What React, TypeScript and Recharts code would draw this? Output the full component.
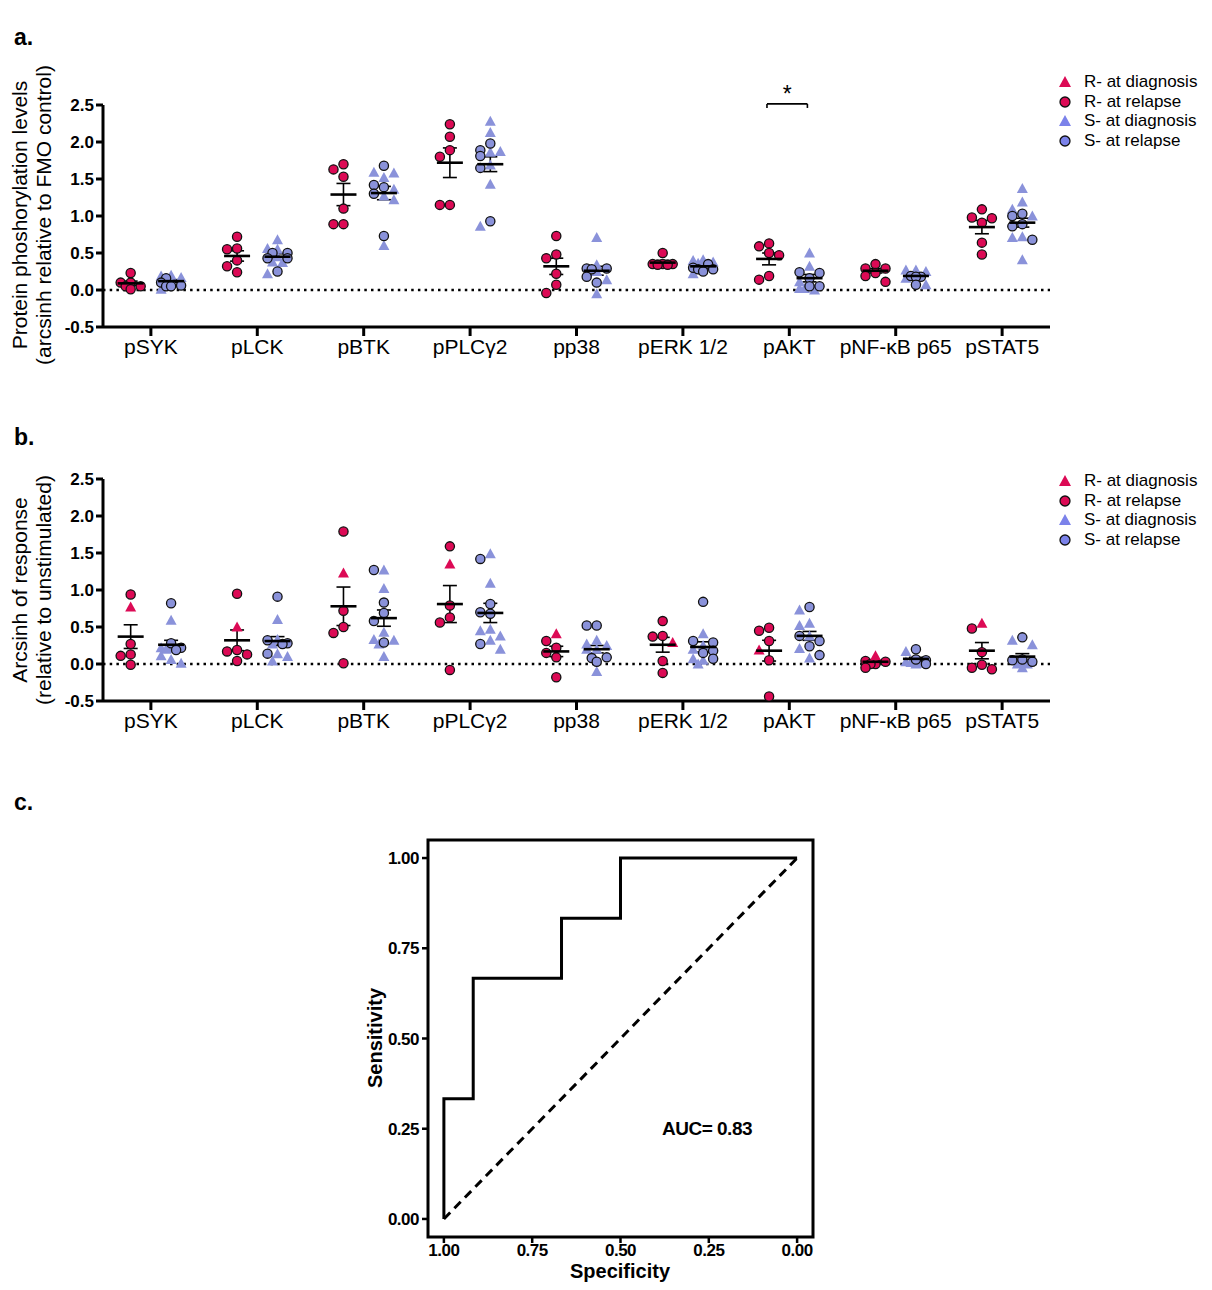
import React from "react";
import {
  ScatterChart,
  Scatter,
  XAxis,
  YAxis,
  ReferenceLine,
  ErrorBar,
  LineChart,
  Line,
  ReferenceArea,
  ReferenceDot,
} from "recharts";

const FONT = "'Liberation Sans', Arial, sans-serif";
const RED = "#dc0a55";
const BLUE = "#8a92da";

const categories = ["pSYK", "pLCK", "pBTK", "pPLCγ2", "pp38", "pERK 1/2", "pAKT", "pNF-κB p65", "pSTAT5"];
const yTicks = [-0.5, 0, 0.5, 1, 1.5, 2, 2.5];

// panel a: phosphorylation levels
const aRDiag: number[][] = [[], [], [], [], [], [], [], [], []];
const aRRel = [
  [0.23, 0.1, 0.1, 0.05, 0.05, 0.01],
  [0.72, 0.56, 0.55, 0.4, 0.32, 0.24],
  [1.7, 1.63, 1.53, 1.1, 0.89, 0.89],
  [2.24, 2.07, 1.89, 1.8, 1.15, 1.15],
  [0.73, 0.48, 0.43, 0.22, 0.07, -0.04],
  [0.5, 0.35, 0.35, 0.35, 0.34, 0.34],
  [0.63, 0.59, 0.5, 0.47, 0.19, 0.14],
  [0.35, 0.29, 0.29, 0.23, 0.19, 0.11],
  [1.09, 0.98, 0.97, 0.91, 0.64, 0.48],
];
const aSDiag = [
  [0.2, 0.19, 0.17, 0.12, 0.01],
  [0.68, 0.56, 0.55, 0.45, 0.38, 0.37, 0.22],
  [1.59, 1.58, 1.52, 1.36, 1.27, 1.22, 0.6],
  [2.28, 2.13, 1.87, 1.86, 1.69, 1.43, 0.86],
  [0.71, 0.34, 0.25, 0.14, -0.05],
  [0.41, 0.4, 0.38, 0.36, 0.33, 0.22],
  [0.5, 0.32, 0.11, 0.02, 0.02, 0.0],
  [0.27, 0.27, 0.25, 0.16, 0.07],
  [1.37, 1.19, 1.09, 1.0, 0.72, 0.71, 0.41],
];
const aSRel = [
  [0.16, 0.1, 0.06, 0.05, 0.05],
  [0.5, 0.5, 0.43, 0.43, 0.25],
  [1.68, 1.42, 1.39, 1.3, 0.73],
  [1.98, 1.89, 1.81, 1.65, 0.93],
  [0.29, 0.29, 0.28, 0.18, 0.1],
  [0.35, 0.3, 0.28, 0.28, 0.25],
  [0.24, 0.23, 0.16, 0.05, 0.05],
  [0.19, 0.18, 0.18, 0.07],
  [1.03, 1.0, 0.89, 0.86, 0.68],
];
const aRMean = [0.09, 0.46, 1.29, 1.72, 0.32, 0.37, 0.42, 0.26, 0.85];
const aRSem = [0.03, 0.07, 0.15, 0.2, 0.11, 0.03, 0.08, 0.03, 0.09];
const aSMean = [0.12, 0.45, 1.31, 1.7, 0.26, 0.32, 0.16, 0.19, 0.91];
const aSSem = [0.02, 0.04, 0.09, 0.1, 0.06, 0.02, 0.05, 0.02, 0.06];

// panel b: response to stimulation
const bRDiag = [[0.77], [0.5], [1.23], [1.35], [0.41], [0.29], [0.19], [0.11], [0.55]];
const bRRel = [
  [0.94, 0.27, 0.13, 0.11, -0.01],
  [0.95, 0.19, 0.17, 0.13, 0.04],
  [1.79, 0.72, 0.5, 0.42, 0.01],
  [1.59, 0.79, 0.63, 0.56, -0.08],
  [0.31, 0.22, 0.15, 0.09, -0.18],
  [0.58, 0.38, 0.37, 0.04, -0.12],
  [0.49, 0.45, 0.31, 0.05, -0.44],
  [0.04, 0.03, 0.0, 0.0, -0.05],
  [0.48, 0.16, -0.01, -0.05, -0.07],
];
const bSDiag = [
  [0.59, 0.22, 0.21, 0.2, 0.11, 0.06, 0.01],
  [0.6, 0.33, 0.27, 0.14, 0.1, 0.04],
  [1.27, 1.02, 0.43, 0.33, 0.32, 0.27, 0.1],
  [1.49, 1.09, 0.47, 0.45, 0.38, 0.32, 0.2],
  [0.32, 0.27, 0.25, 0.2, 0.2, -0.1],
  [0.41, 0.25, 0.2, 0.07, 0.05, 0.0],
  [0.73, 0.55, 0.52, 0.38, 0.21, 0.08],
  [0.17, 0.03, 0.02, 0.01, 0.0],
  [0.32, 0.26, 0.0, 0.0, -0.05],
];
const bSRel = [
  [0.82, 0.28, 0.22, 0.19],
  [0.91, 0.32, 0.28, 0.27, 0.14],
  [1.27, 0.83, 0.69, 0.58, 0.29],
  [1.42, 0.81, 0.7, 0.68, 0.27],
  [0.52, 0.52, 0.09, 0.08, 0.03],
  [0.84, 0.31, 0.29, 0.18, 0.15, 0.07],
  [0.77, 0.38, 0.31, 0.24, 0.12],
  [0.2, 0.06, 0.05, 0.0],
  [0.36, 0.06, 0.05, 0.03],
];
const bRMean = [0.37, 0.32, 0.78, 0.81, 0.17, 0.26, 0.18, 0.03, 0.18];
const bRSem = [0.16, 0.14, 0.26, 0.25, 0.07, 0.1, 0.14, 0.02, 0.11];
const bSMean = [0.26, 0.31, 0.62, 0.69, 0.2, 0.23, 0.38, 0.07, 0.1];
const bSSem = [0.06, 0.06, 0.11, 0.13, 0.05, 0.07, 0.06, 0.02, 0.04];

// panel c: ROC curve
const rocSpec = [1, 1, 0.917, 0.917, 0.667, 0.667, 0.5, 0.5, 0];
const rocSens = [0, 0.333, 0.333, 0.667, 0.667, 0.833, 0.833, 1, 1];
const chanceSpec = [1, 0];
const chanceSens = [0, 1];
const rocTicks = [0, 0.25, 0.5, 0.75, 1];

// layout of the dot plots (pixels per data unit), used to spread dots
const PX_X = 106.4;
const PX_Y = 74;
const SHIFT = 0.19;
const SLOTS = [0, -10, 10, -5, 5];

type Pt = { x: number; y: number };

// simple beeswarm limited to +-10px: spread dots with close values sideways
function swarm(tri: number[], circ: number[], center: number) {
  const items = [
    ...tri.map((v) => ({ v, k: "t" })),
    ...circ.map((v) => ({ v, k: "c" })),
  ].sort((a, b) => b.v - a.v);
  const placed: { ox: number; oy: number }[] = [];
  const outT: Pt[] = [];
  const outC: Pt[] = [];
  items.forEach((it) => {
    const oy = -it.v * PX_Y;
    let best = 0;
    let bestD = -1;
    for (const cand of SLOTS) {
      const d = placed.length ? Math.min(...placed.map((p) => Math.hypot(p.ox - cand, p.oy - oy))) : 99;
      if (d >= 9.5) {
        best = cand;
        break;
      }
      if (d > bestD + 0.5) {
        bestD = d;
        best = cand;
      }
    }
    placed.push({ ox: best, oy });
    const pt = { x: center + best / PX_X, y: it.v };
    if (it.k === "t") outT.push(pt);
    else outC.push(pt);
  });
  return { t: outT, c: outC };
}

function buildPanel(rDiag: number[][], rRel: number[][], sDiag: number[][], sRel: number[][]) {
  const res = { rT: [] as Pt[], rC: [] as Pt[], sT: [] as Pt[], sC: [] as Pt[] };
  categories.forEach((_, i) => {
    const r = swarm(rDiag[i], rRel[i], i + 1 - SHIFT);
    const s = swarm(sDiag[i], sRel[i], i + 1 + SHIFT);
    res.rT.push(...r.t);
    res.rC.push(...r.c);
    res.sT.push(...s.t);
    res.sC.push(...s.c);
  });
  return res;
}

const circleShape = (color: string) => (p: any) =>
  <circle cx={p.cx} cy={p.cy} r={4.6} fill={color} stroke="#111" strokeWidth={1.3} />;
const triShape = (color: string) => (p: any) =>
  <polygon
    points={`${p.cx},${p.cy - 5.5} ${p.cx + 5.5},${p.cy + 4.5} ${p.cx - 5.5},${p.cy + 4.5}`}
    fill={color}
  />;
const meanShape = (p: any) =>
  <line x1={p.cx - 13} x2={p.cx + 13} y1={p.cy} y2={p.cy} stroke="#000" strokeWidth={2.6} />;

interface DotPanelProps {
  rDiag: number[][];
  rRel: number[][];
  sDiag: number[][];
  sRel: number[][];
  rMean: number[];
  rSem: number[];
  sMean: number[];
  sSem: number[];
  bracket?: boolean;
}

const DotPanel: React.FC<DotPanelProps> = (props) => {
  const pts = buildPanel(props.rDiag, props.rRel, props.sDiag, props.sRel);
  const rStats = props.rMean.map((m, i) => ({ x: i + 1 - SHIFT, y: m, sem: props.rSem[i] }));
  const sStats = props.sMean.map((m, i) => ({ x: i + 1 + SHIFT, y: m, sem: props.sSem[i] }));
  return (
    <ScatterChart width={1060} height={380} margin={{ top: 105, right: 10, bottom: 13, left: 0 }}>
      <XAxis
        type="number"
        dataKey="x"
        domain={[0.55, 9.45]}
        ticks={[1, 2, 3, 4, 5, 6, 7, 8, 9]}
        interval={0}
        allowDataOverflow
        tickFormatter={(v) => categories[v - 1]}
        tick={{ fill: "#000", fontSize: 21, fontFamily: FONT }}
        tickLine={{ stroke: "#000", strokeWidth: 3 }}
        axisLine={{ stroke: "#000", strokeWidth: 3 }}
        tickSize={9}
        tickMargin={3}
        height={40}
      />
      <YAxis
        type="number"
        dataKey="y"
        domain={[-0.5, 2.5]}
        ticks={yTicks}
        interval={0}
        allowDataOverflow
        tickFormatter={(v) => v.toFixed(1)}
        tick={{ fill: "#000", fontSize: 17, fontWeight: 700, fontFamily: FONT }}
        tickLine={{ stroke: "#000", strokeWidth: 3 }}
        axisLine={{ stroke: "#000", strokeWidth: 3 }}
        tickSize={7}
        tickMargin={2}
        width={103}
      />
      <ReferenceLine y={0} stroke="#000" strokeWidth={2.5} strokeDasharray="2.5 4.2" />
      <Scatter data={pts.sT} shape={triShape(BLUE)} isAnimationActive={false} />
      <Scatter data={pts.sC} shape={circleShape(BLUE)} isAnimationActive={false} />
      <Scatter data={pts.rC} shape={circleShape(RED)} isAnimationActive={false} />
      <Scatter data={pts.rT} shape={triShape(RED)} isAnimationActive={false} />
      <Scatter data={rStats} shape={meanShape} isAnimationActive={false}>
        <ErrorBar dataKey="sem" direction="y" width={7} stroke="#000" strokeWidth={1.6} isAnimationActive={false} />
      </Scatter>
      <Scatter data={sStats} shape={meanShape} isAnimationActive={false}>
        <ErrorBar dataKey="sem" direction="y" width={7} stroke="#000" strokeWidth={1.6} isAnimationActive={false} />
      </Scatter>
      {props.bracket && (
        <ReferenceLine
          segment={[{ x: 6.79, y: 2.515 }, { x: 7.17, y: 2.515 }]}
          stroke="#000"
          strokeWidth={1.6}
          ifOverflow="visible"
          label={{ value: "*", position: "top", fontSize: 23, fill: "#000", fontFamily: FONT, offset: 2 }}
        />
      )}
      {props.bracket && (
        <ReferenceLine segment={[{ x: 6.79, y: 2.515 }, { x: 6.79, y: 2.46 }]} stroke="#000" strokeWidth={1.6} ifOverflow="visible" />
      )}
      {props.bracket && (
        <ReferenceLine segment={[{ x: 7.17, y: 2.515 }, { x: 7.17, y: 2.46 }]} stroke="#000" strokeWidth={1.6} ifOverflow="visible" />
      )}
    </ScatterChart>
  );
};

const rocData = rocSpec.map((s, i) => ({ spec: s, sens: rocSens[i] }));
const chanceData = chanceSpec.map((s, i) => ({ spec: s, sens: chanceSens[i] }));

const RocChart: React.FC = () => (
  <LineChart width={840} height={510} margin={{ top: 60, right: 27, bottom: 13, left: 360 }}>
    <XAxis
      type="number"
      dataKey="spec"
      domain={[-0.045, 1.045]}
      reversed
      allowDataOverflow
      ticks={rocTicks}
      interval={0}
      tickFormatter={(v) => v.toFixed(2)}
      axisLine={false}
      tickLine={{ stroke: "#000", strokeWidth: 2.5 }}
      tickSize={6}
      tickMargin={1}
      tick={{ fill: "#000", fontSize: 17, fontWeight: 700, fontFamily: FONT, letterSpacing: -0.5 }}
      height={40}
    />
    <YAxis
      type="number"
      dataKey="sens"
      domain={[-0.05, 1.05]}
      allowDataOverflow
      ticks={rocTicks}
      interval={0}
      tickFormatter={(v) => v.toFixed(2)}
      axisLine={false}
      tickLine={{ stroke: "#000", strokeWidth: 2.5 }}
      tickSize={6}
      tickMargin={3}
      tick={{ fill: "#000", fontSize: 17, fontWeight: 700, fontFamily: FONT, letterSpacing: -0.5 }}
      width={68}
    />
    <ReferenceArea x1={-0.045} x2={1.045} y1={-0.05} y2={1.05} fill="none" stroke="#000" strokeWidth={3} ifOverflow="visible" />
    <Line data={chanceData} dataKey="sens" type="linear" stroke="#000" strokeWidth={3} strokeDasharray="9 6" dot={false} isAnimationActive={false} />
    <Line data={rocData} dataKey="sens" type="linear" stroke="#000" strokeWidth={3} strokeLinejoin="miter" dot={false} isAnimationActive={false} />
    <ReferenceDot
      x={0.255}
      y={0.25}
      r={0}
      fill="none"
      stroke="none"
      label={{ value: "AUC= 0.83", position: "center", fontSize: 19, fontWeight: 700, fill: "#000", fontFamily: FONT, letterSpacing: -0.5 }}
    />
  </LineChart>
);

const VText: React.FC<{ x: number; y: number; size: number; bold?: boolean; children: React.ReactNode }> = ({ x, y, size, bold, children }) => (
  <div
    style={{
      position: "absolute",
      left: x,
      top: y,
      transform: "translate(-50%, -50%) rotate(-90deg)",
      whiteSpace: "nowrap",
      fontSize: size,
      fontWeight: bold ? 700 : 400,
      lineHeight: 1,
    }}
  >
    {children}
  </div>
);

const legendItems = [
  { label: "R- at diagnosis", color: RED, tri: true },
  { label: "R- at relapse", color: RED, tri: false },
  { label: "S- at diagnosis", color: "#7b82ea", tri: true },
  { label: "S- at relapse", color: "#7b82ea", tri: false },
];

const Legend: React.FC<{ x: number; y: number }> = ({ x, y }) => (
  <div style={{ position: "absolute", left: x, top: y }}>
    {legendItems.map((it) => (
      <div key={it.label} style={{ display: "flex", alignItems: "center", height: 19.7, fontSize: 17 }}>
        <svg width={14} height={14} style={{ marginRight: 12 }}>
          {it.tri ? (
            <polygon points="7,1 13,12 1,12" fill={it.color} />
          ) : (
            <circle cx={7} cy={7} r={5} fill={it.color} stroke="#111" strokeWidth={1.3} />
          )}
        </svg>
        <span>{it.label}</span>
      </div>
    ))}
  </div>
);

const PanelLetter: React.FC<{ x: number; y: number; children: React.ReactNode }> = ({ x, y, children }) => (
  <div style={{ position: "absolute", left: x, top: y, fontSize: 23, fontWeight: 700 }}>{children}</div>
);

export default function App() {
  return (
    <div
      style={{
        position: "absolute",
        left: 0,
        top: 0,
        width: 1212,
        height: 1290,
        background: "#fff",
        fontFamily: FONT,
        color: "#000",
        overflow: "hidden",
      }}
    >
      <div style={{ position: "absolute", left: 0, top: 0 }}>
        <DotPanel
          rDiag={aRDiag}
          rRel={aRRel}
          sDiag={aSDiag}
          sRel={aSRel}
          rMean={aRMean}
          rSem={aRSem}
          sMean={aSMean}
          sSem={aSSem}
          bracket
        />
      </div>
      <div style={{ position: "absolute", left: 0, top: 374 }}>
        <DotPanel
          rDiag={bRDiag}
          rRel={bRRel}
          sDiag={bSDiag}
          sRel={bSRel}
          rMean={bRMean}
          rSem={bRSem}
          sMean={bSMean}
          sSem={bSSem}
        />
      </div>
      <div style={{ position: "absolute", left: 0, top: 780 }}>
        <RocChart />
      </div>

      <PanelLetter x={14} y={24}>a.</PanelLetter>
      <PanelLetter x={14} y={424}>b.</PanelLetter>
      <PanelLetter x={14} y={789}>c.</PanelLetter>

      <VText x={19} y={215} size={21}>Protein phoshorylation levels</VText>
      <VText x={43} y={215} size={21}>(arcsinh relative to FMO control)</VText>
      <VText x={19} y={590} size={21}>Arcsinh of response</VText>
      <VText x={43} y={590} size={21}>(relative to unstimulated)</VText>
      <VText x={375} y={1038} size={20} bold>Sensitivity</VText>
      <div
        style={{
          position: "absolute",
          left: 620,
          top: 1271,
          transform: "translate(-50%, -50%)",
          fontSize: 20,
          fontWeight: 700,
          whiteSpace: "nowrap",
        }}
      >
        Specificity
      </div>

      <Legend x={1058} y={72} />
      <Legend x={1058} y={471} />
    </div>
  );
}
